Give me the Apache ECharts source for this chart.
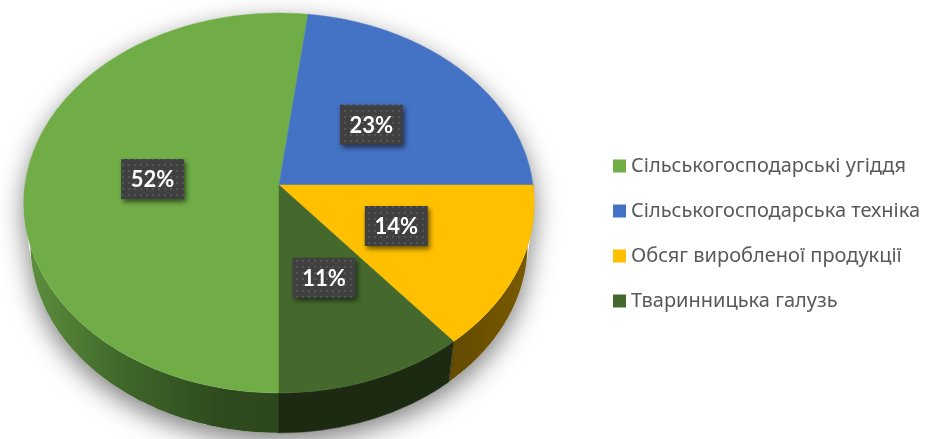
<!DOCTYPE html>
<html><head><meta charset="utf-8">
<script src="https://cdn.jsdelivr.net/npm/echarts@6/dist/echarts.min.js"></script>
<style>html,body{margin:0;padding:0;background:#fff}#c{width:935px;height:439px}</style>
</head><body><div id="c"></div>
<script>
// ---- data ----
const categories = ['Сільськогосподарські угіддя', 'Сільськогосподарська техніка', 'Обсяг виробленої продукції', 'Тваринницька галузь'];
const values = [52, 23, 14, 11];
const percentLabels = ['52%', '23%', '14%', '11%'];

// ---- style ----
const colors = ['#70AD47', '#4472C4', '#FFC000', '#45692D'];
const sideFills = [
  new echarts.graphic.LinearGradient(0, 0, 1, 0, [
    {offset: 0, color: '#5e913e'}, {offset: 0.4, color: '#3f6529'},
    {offset: 0.75, color: '#2f4c1f'}, {offset: 1, color: '#2c471c'}]),
  '#2a4880',
  new echarts.graphic.LinearGradient(0, 0, 1, 0, [
    {offset: 0, color: '#634a00'}, {offset: 1, color: '#7a5b00'}]),
  '#1c2a12'
];
const CX = 279, CY = 185, R = 254, SIN = 0.741, COS = 0.671, DIST = 7.09, H = 0.2506, START = 90;

const total = values.reduce((a, b) => a + b, 0);
const starts = []; let acc = 0;
values.forEach(v => { starts.push(START + acc / total * 360); acc += v; });
function angles(i) { return [starts[i], starts[i] + values[i] / total * 360]; }

function proj(thDeg, r, z) {
  const t = thDeg * Math.PI / 180;
  const X = r * Math.cos(t), Y = r * Math.sin(t);
  const ys = Y * SIN - z * COS;
  const d = Y * COS + z * SIN;
  const s = DIST / (DIST - d);
  return [CX + R * s * X, CY + R * s * ys];
}
function arc(a0, a1, r, z) {
  const pts = []; const n = Math.max(2, Math.ceil(Math.abs(a1 - a0)));
  for (let i = 0; i <= n; i++) pts.push(proj(a0 + (a1 - a0) * i / n, r, z));
  return pts;
}
const tang = Math.asin(1 / (DIST * COS)) * 180 / Math.PI;

// dotted pattern for label boxes
const pat = document.createElement('canvas'); pat.width = 6; pat.height = 6;
(function () { const g = pat.getContext('2d'); g.fillStyle = '#404040'; g.fillRect(0, 0, 6, 6);
  g.fillStyle = '#555555'; g.fillRect(2, 2, 2, 2); })();

const series = [];
series.push({
  type: 'custom', name: '__base', coordinateSystem: 'none', silent: true, data: [0], z: 1,
  renderItem: function () {
    const children = [];
    const sil = arc(180 - tang, 360 + tang, 1, 0).concat(arc(tang, 180 - tang, 1, -H));
    children.push({type: 'polygon', shape: {points: sil},
      style: {fill: '#ffffff', shadowBlur: 26, shadowColor: 'rgba(0,0,0,0.5)', shadowOffsetY: 9}});
    values.forEach((v, i) => {
      const [a0, a1] = angles(i);
      for (let k = -1; k <= 1; k++) {
        const lo = Math.max(a0, 360 * k), hi = Math.min(a1, 360 * k + 180);
        if (hi > lo) {
          const pts = arc(lo, hi, 1, 0).concat(arc(hi, lo, 1, -H));
          children.push({type: 'polygon', shape: {points: pts},
            style: {fill: sideFills[i], stroke: typeof sideFills[i] === 'string' ? sideFills[i] : null, lineWidth: 0.5}});
        }
      }
    });
    return {type: 'group', children: children};
  }
});
values.forEach((v, i) => {
  series.push({
    type: 'custom', name: categories[i], coordinateSystem: 'none', data: [v], z: 2,
    itemStyle: {color: colors[i]},
    renderItem: function () {
      const [a0, a1] = angles(i);
      const pts = [proj(0, 0, 0)].concat(arc(a0, a1, 1, 0));
      const mid = proj((a0 + a1) / 2, 0.5, 0);
      return {type: 'group', children: [
        {type: 'polygon', shape: {points: pts}, style: {fill: colors[i], stroke: colors[i], lineWidth: 0.5}},
        {type: 'rect', z2: 100, shape: {x: mid[0] - 31.5, y: mid[1] - 20, width: 63, height: 40},
          style: {fill: {image: pat, repeat: 'repeat'}, shadowBlur: 5, shadowOffsetX: 2, shadowOffsetY: 3, shadowColor: 'rgba(0,0,0,0.55)'}},
        {type: 'text', z2: 101, style: {text: percentLabels[i], x: mid[0], y: mid[1] + 1,
          fill: '#ffffff', font: 'bold 22px Lato, "Open Sans", sans-serif', align: 'center', verticalAlign: 'middle',
          textAlign: 'center', textVerticalAlign: 'middle'}}
      ]};
    }
  });
});

const chart = echarts.init(document.getElementById('c'));
chart.setOption({
  animation: false,
  legend: {
    data: categories, orient: 'vertical', left: 613, top: 156, padding: 0,
    icon: 'rect', itemWidth: 13, itemHeight: 13, itemGap: 25,
    textStyle: {color: '#595959', fontSize: 20, lineHeight: 20, fontFamily: '"Noto Sans", sans-serif'}
  },
  series: series
});
</script></body></html>
